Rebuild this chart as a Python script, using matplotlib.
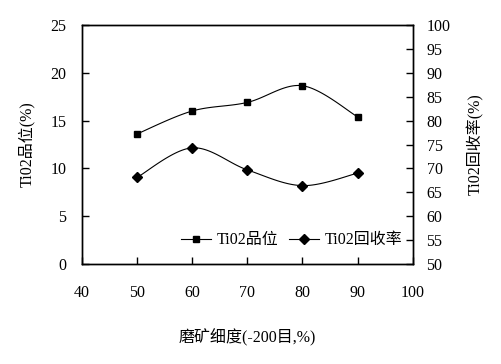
import numpy as np
import matplotlib
matplotlib.use('Agg')
import matplotlib.pyplot as plt

plt.rcParams['font.family'] = ['Liberation Serif', 'Noto Sans CJK SC']
plt.rcParams['font.size'] = 11.5

# Data
fineness = [50, 60, 70, 80, 90]
grade = [13.6, 16.0, 16.9, 18.65, 15.4]
recovery = [68.1, 74.3, 69.7, 66.4, 69.0]


def smooth(x, y, n=30):
    # Catmull-Rom style smoothing (like Excel's smoothed lines)
    x = np.asarray(x, float)
    y = np.asarray(y, float)
    px = np.concatenate([[x[0]], x, [x[-1]]])
    py = np.concatenate([[y[0]], y, [y[-1]]])
    xs, ys = [], []
    t = np.linspace(0, 1, n)
    for i in range(1, len(px) - 2):
        p0, p1, p2, p3 = [np.array([px[k], py[k]]) for k in range(i - 1, i + 3)]
        c1 = p1 + (p2 - p0) / 6
        c2 = p2 - (p3 - p1) / 6
        b = ((1 - t) ** 3)[:, None] * p1 + (3 * (1 - t) ** 2 * t)[:, None] * c1 \
            + (3 * (1 - t) * t ** 2)[:, None] * c2 + (t ** 3)[:, None] * p2
        xs.extend(b[:, 0])
        ys.extend(b[:, 1])
    return xs, ys


fig = plt.figure(figsize=(5.02, 3.64), dpi=100)
ax = fig.add_axes([0.163, 0.2747, 0.659, 0.6566])
ax2 = ax.twinx()

sx, sy = smooth(fineness, grade)
ax.plot(sx, sy, color='black', lw=0.8)
ax.plot(fineness, grade, 's', color='black', ms=4.5)

rx, ry = smooth(fineness, recovery)
ax2.plot(rx, ry, color='black', lw=0.8)
ax2.plot(fineness, recovery, 'D', color='black', ms=5)

ax.set_xlim(40, 100)
ax.set_ylim(0, 25)
ax2.set_ylim(50, 100)
ax.set_xticks(range(40, 101, 10))
ax.set_yticks(range(0, 26, 5))
ax2.set_yticks(range(50, 101, 5))

ax.tick_params(axis='x', direction='in', length=5, width=1, pad=15)
ax.tick_params(axis='y', direction='in', length=5, width=1, pad=11)
ax2.tick_params(axis='y', direction='in', length=5, width=1, pad=10)
for a in (ax, ax2):
    for s in a.spines.values():
        s.set_linewidth(1)

ax.set_xlabel('磨矿细度(-200目,%)', labelpad=20)
ax.set_ylabel('Ti02品位(%)', labelpad=11)
ax2.set_ylabel('Ti02回收率(%)', rotation=90, labelpad=12)

h1 = plt.Line2D([], [], color='black', lw=0.8, marker='s', ms=4.5)
h2 = plt.Line2D([], [], color='black', lw=0.8, marker='D', ms=5)
ax.legend([h1, h2], ['Ti02品位', 'Ti02回收率'], ncol=2, frameon=False,
          loc='center left', bbox_to_anchor=(0.3, 0.1), borderpad=0,
          borderaxespad=0, handlelength=1.9, handletextpad=0.3,
          columnspacing=0.7)

fig.savefig('out.png', dpi=100)
